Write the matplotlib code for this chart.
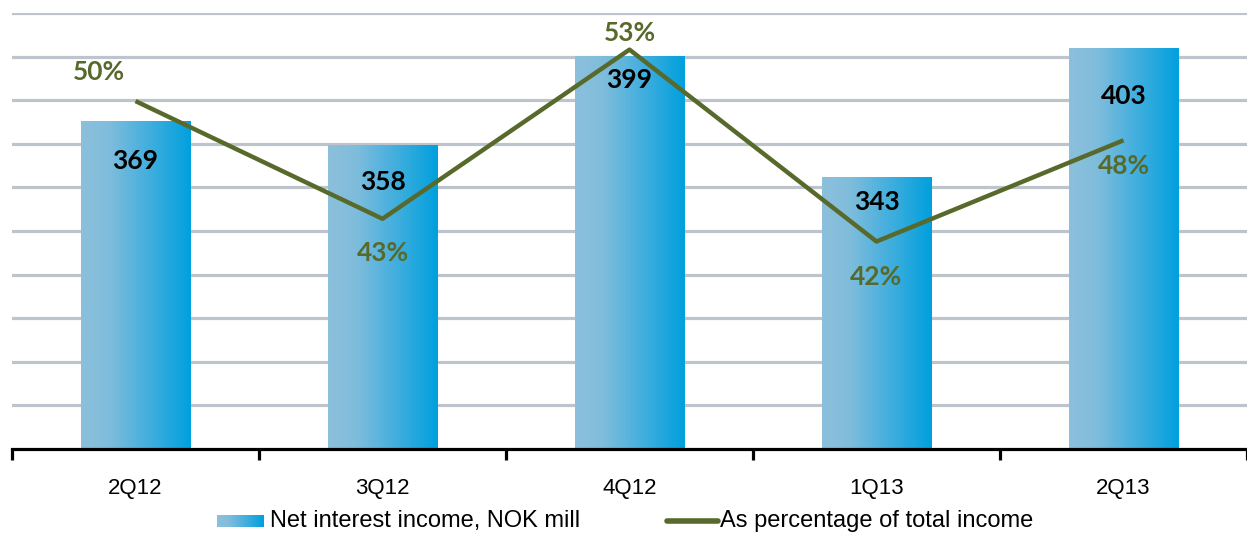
import numpy as np
import matplotlib
matplotlib.use("Agg")
import matplotlib.pyplot as plt
from matplotlib.colors import LinearSegmentedColormap
from matplotlib.patches import Rectangle
from matplotlib.lines import Line2D

# data
quarters = ["2Q12", "3Q12", "4Q12", "1Q13", "2Q13"]
nii = [369, 358, 399, 343, 403]
pct = [49.95, 43.2, 52.9, 41.9, 47.7]
pct_labels = ["50%", "43%", "53%", "42%", "48%"]

# label offsets in pixels (manual placement like the original)
nii_off = [-40, -37, -24, -25, -48]
pct_off = [(-37, 29), (0, -34), (0, 17), (0, -36), (0, -26)]

olive = "#586a2b"
grid_c = "#bdc4cb"
grad = LinearSegmentedColormap.from_list("g", [(0, "#8cc0db"), (0.25, "#80bddc"),
                                               (0.6, "#45afde"), (1, "#00a0dd")])

fig = plt.figure(figsize=(12.47, 5.35), dpi=100)
ax = fig.add_axes([12 / 1247, 86 / 535, 1 - 12 / 1247, 436 / 535])
ax2 = ax.twinx()

x = np.arange(len(quarters))
w = 0.445
ymin, ymax = 217, 419

for g in np.linspace(ymin, ymax, 11)[1:]:
    ax.axhline(g, color=grid_c, lw=2.3, zorder=1)

gimg = np.linspace(0, 1, 256).reshape(1, -1)
for xi, v in zip(x, nii):
    rect = Rectangle((xi - w / 2, ymin), w, v - ymin, facecolor="none", edgecolor="none")
    ax.add_patch(rect)
    im = ax.imshow(gimg, cmap=grad, extent=[xi - w / 2, xi + w / 2, ymin, v],
                   aspect="auto", zorder=2, interpolation="bilinear")
    im.set_clip_path(rect)

for xi, v, off in zip(x, nii, nii_off):
    ax.annotate(str(v), (xi, v), xytext=(0, off), textcoords="offset pixels",
                ha="center", va="center", fontsize=19, fontweight="bold",
                family="Lato", color="black", zorder=5)

ax.set_xlim(-0.5, 4.5)
ax.set_ylim(ymin, ymax)
ax.set_yticks([])
for s in ["top", "left", "right"]:
    ax.spines[s].set_visible(False)
    ax2.spines[s].set_visible(False)
ax2.spines["bottom"].set_visible(False)
ax.spines["bottom"].set_linewidth(2.3)
ax.set_xticks(np.arange(-0.5, 4.6, 1))
ax.set_xticklabels([])
ax.tick_params(axis="x", which="major", length=8, width=2.3, direction="out")
ax.set_xticks(x, minor=True)
ax.set_xticklabels(quarters, minor=True, fontsize=16, family="Liberation Sans")
ax.tick_params(axis="x", which="minor", length=0, pad=21)

ax2.plot(x, pct, color=olive, lw=3.2, zorder=4, solid_capstyle="butt")
ax2.set_ylim(30, 55)
ax2.set_yticks([])
for xi, v, lab, off in zip(x, pct, pct_labels, pct_off):
    ax2.annotate(lab, (xi, v), xytext=off, textcoords="offset pixels",
                 ha="center", va="center", fontsize=19, fontweight="bold",
                 family="Lato", color=olive, annotation_clip=False)

# legend drawn by hand
lax = fig.add_axes([217 / 1247, 8 / 535, 47 / 1247, 12 / 535])
lax.imshow(gimg, cmap=grad, aspect="auto", interpolation="bilinear")
lax.axis("off")
fig.text(270 / 1247, 14 / 535, "Net interest income, NOK mill", fontsize=17,
         family="Liberation Sans", va="center", ha="left")
fig.add_artist(Line2D([667 / 1247, 718 / 1247], [14 / 535, 14 / 535], color=olive,
                      lw=4, solid_capstyle="round", transform=fig.transFigure))
fig.text(720 / 1247, 14 / 535, "As percentage of total income", fontsize=17,
         family="Liberation Sans", va="center", ha="left")

fig.savefig("out.png", dpi=100)
